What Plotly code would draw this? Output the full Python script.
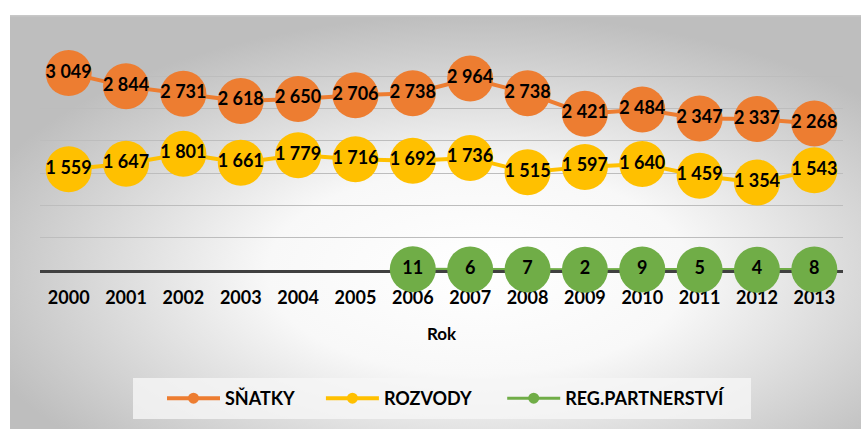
import base64
import plotly.graph_objects as go

years = ["2000", "2001", "2002", "2003", "2004", "2005", "2006",
         "2007", "2008", "2009", "2010", "2011", "2012", "2013"]
snatky = [3049, 2844, 2731, 2618, 2650, 2706, 2738, 2964, 2738, 2421, 2484, 2347, 2337, 2268]
rozvody = [1559, 1647, 1801, 1661, 1779, 1716, 1692, 1736, 1515, 1597, 1640, 1459, 1354, 1543]
partnerstvi = [None, None, None, None, None, None, 11, 6, 7, 2, 9, 5, 4, 8]

series_names = ["SŇATKY", "ROZVODY", "REG.PARTNERSTVÍ"]
legend_pad = [5, 6, 0]
colors = ["#ED7D31", "#FFC000", "#70AD47"]
line_widths = [4, 4, 3]

FONT = "Lato"


def fmt(v):
    if v is None:
        return ""
    return f"{v:,}".replace(",", " ")


svg = """<svg xmlns='http://www.w3.org/2000/svg' width='851' height='414' viewBox='0 0 851 414' preserveAspectRatio='none'>
<defs><radialGradient id='g' cx='0.55' cy='0.62' r='0.62' gradientUnits='objectBoundingBox'>
<stop offset='0' stop-color='#FFFFFF'/><stop offset='0.4' stop-color='#F8F8F8'/><stop offset='1' stop-color='#BEBEBE'/></radialGradient></defs>
<rect x='0' y='0' width='851' height='414' fill='url(#g)'/>
<rect x='0' y='0' width='851' height='1.5' fill='#C8C8C8'/>
</svg>"""
svg_uri = "data:image/svg+xml;base64," + base64.b64encode(svg.encode()).decode()

fig = go.Figure()

for name, pad, vals, col, lw in zip(series_names, legend_pad, [snatky, rozvody, partnerstvi], colors, line_widths):
    fig.add_trace(go.Scatter(
        x=years, y=vals, mode="lines+markers+text", name=name,
        line=dict(color=col, width=lw),
        marker=dict(color=col, size=46),
        text=[fmt(v) for v in vals], textposition="middle center",
        textfont=dict(family=FONT, size=18, color="black", weight="bold"),
        showlegend=False, cliponaxis=False, hoverinfo="skip",
    ))
    fig.add_trace(go.Scatter(
        x=[None], y=[None], mode="lines+markers", name=name + "\u00a0" * pad,
        line=dict(color=col, width=lw),
        marker=dict(color=col, size=11),
        showlegend=True,
    ))

# plot area: x 40..843, y 44..270 (px)
L, R, T, B = 40, 18, 44, 159
pw, ph = 861 - L - R, 429 - T - B


def px_x(v):
    return (v - L) / pw


def px_y(v):
    return (270 - v) / ph


fig.add_layout_image(dict(
    source=svg_uri, xref="paper", yref="paper",
    x=px_x(10), y=px_y(15),
    sizex=(861 - 10) / pw, sizey=(429 - 15) / ph,
    xanchor="left", yanchor="top", sizing="stretch", layer="below",
))

fig.add_shape(type="rect", xref="paper", yref="paper",
              x0=px_x(133), x1=px_x(751), y0=px_y(419), y1=px_y(378),
              fillcolor="rgba(246,246,246,0.8)", line=dict(width=0), layer="below")

fig.update_layout(
    width=861, height=429,
    margin=dict(l=L, r=R, t=T, b=B),
    paper_bgcolor="white", plot_bgcolor="rgba(0,0,0,0)",
    font=dict(family=FONT, color="black"),
    showlegend=True,
    legend=dict(
        orientation="h", x=px_x(446), xanchor="center",
        y=px_y(380), yanchor="top",
        bgcolor="rgba(0,0,0,0)",
        font=dict(family=FONT, size=18, color="black", weight="bold"),
        itemwidth=53, entrywidth=0, tracegroupgap=0,
    ),
    xaxis=dict(
        type="category", range=[-0.5, 13.5],
        showgrid=False, showline=True, linecolor="#404040", linewidth=3,
        ticks="", ticklabelstandoff=9, layer="below traces",
        tickfont=dict(family=FONT, size=18, color="black", weight="bold"),
        title=dict(text="Rok", standoff=22,
                   font=dict(family=FONT, size=17, color="black", weight="bold")),
    ),
    yaxis=dict(
        range=[0, 3500], dtick=500, showticklabels=False,
        showgrid=True, gridcolor="#BDBDBD", gridwidth=1.3,
        zeroline=False, showline=False, layer="below traces",
    ),
)

fig.write_html("out.html", config={"displayModeBar": False},
               post_script="document.body.style.margin='0px';document.body.style.padding='0px';")
